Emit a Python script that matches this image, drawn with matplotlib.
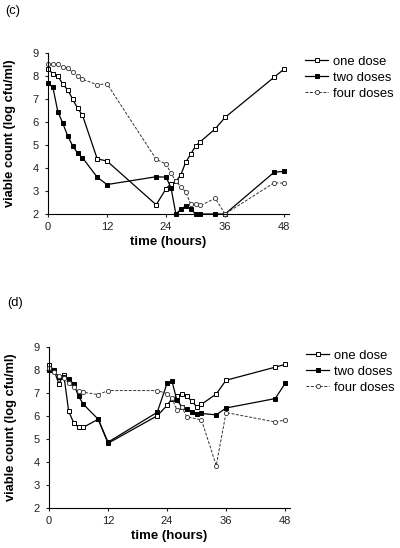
import matplotlib
matplotlib.use("Agg")
from matplotlib import pyplot as plt

plt.rcParams['font.family'] = ['Liberation Sans', 'DejaVu Sans']

# (c) panel data
c_one_t = [0, 1, 2, 3, 4, 5, 6, 7, 10, 12, 22, 24, 25, 26, 27, 28, 29, 30, 31, 34, 36, 46, 48]
c_one_v = [8.3, 8.1, 8.0, 7.65, 7.4, 7.0, 6.6, 6.3, 4.4, 4.3, 2.4, 3.1, 3.32, 3.42, 3.7, 4.25, 4.6, 4.95, 5.15, 5.7, 6.2, 7.95, 8.3]
c_two_t = [0, 1, 2, 3, 4, 5, 6, 7, 10, 12, 22, 24, 25, 26, 27, 28, 29, 30, 31, 34, 36, 46, 48]
c_two_v = [7.7, 7.5, 6.45, 5.95, 5.4, 4.97, 4.65, 4.45, 3.6, 3.28, 3.62, 3.6, 3.15, 2.0, 2.2, 2.35, 2.22, 2.0, 2.0, 2.0, 2.0, 3.82, 3.85]
c_four_t = [0, 1, 2, 3, 4, 5, 6, 7, 10, 12, 22, 24, 25, 26, 27, 28, 29, 30, 31, 34, 36, 46, 48]
c_four_v = [8.52, 8.5, 8.5, 8.37, 8.35, 8.16, 8.0, 7.86, 7.62, 7.66, 4.38, 4.17, 3.78, 3.42, 3.19, 2.96, 2.43, 2.42, 2.37, 2.68, 2.0, 3.36, 3.34]

# (d) panel data
d_one_t = [0, 1, 2, 3, 4, 5, 6, 7, 10, 12, 22, 24, 25, 26, 27, 28, 29, 30, 31, 34, 36, 46, 48]
d_one_v = [8.2, 8.0, 7.4, 7.8, 6.2, 5.7, 5.5, 5.5, 5.85, 4.8, 6.0, 6.45, 6.75, 6.85, 6.95, 6.85, 6.65, 6.4, 6.5, 6.95, 7.55, 8.12, 8.24]
d_two_t = [0, 1, 2, 3, 4, 5, 6, 7, 10, 12, 22, 24, 25, 26, 27, 28, 29, 30, 31, 34, 36, 46, 48]
d_two_v = [8.0, 7.95, 7.7, 7.7, 7.6, 7.4, 6.85, 6.5, 5.85, 4.85, 6.15, 7.41, 7.52, 6.68, 6.4, 6.29, 6.18, 6.09, 6.1, 6.04, 6.34, 6.75, 7.41]
d_four_t = [0, 1, 2, 3, 4, 5, 6, 7, 10, 12, 22, 24, 25, 26, 27, 28, 31, 34, 36, 46, 48]
d_four_v = [8.1, 7.9, 7.75, 7.65, 7.42, 7.25, 7.07, 7.03, 6.92, 7.1, 7.1, 6.97, 6.77, 6.26, 6.37, 5.96, 5.82, 3.83, 6.14, 5.73, 5.82]

series_labels = ['one dose', 'two doses', 'four doses']
x_ticks = [0, 12, 24, 36, 48]
y_ticks = [2, 3, 4, 5, 6, 7, 8, 9]

fig = plt.figure(figsize=(4, 5.48), dpi=100)
ax_c = fig.add_axes([0.12, 0.6095, 0.6025, 0.2938])
ax_d = fig.add_axes([0.1225, 0.0739, 0.6025, 0.2929])


def draw_panel(ax, one_t, one_v, two_t, two_v, four_t, four_v):
    ax.plot(one_t, one_v, color='black', lw=0.9, marker='s', ms=3.2,
            mfc='white', mec='black', mew=0.7, label=series_labels[0], clip_on=False)
    ax.plot(two_t, two_v, color='black', lw=0.9, marker='s', ms=3.2,
            mfc='black', mec='black', mew=0.7, label=series_labels[1], clip_on=False)
    ax.plot(four_t, four_v, color='#333333', lw=0.7, ls=(0, (3, 1.6)), marker='o', ms=3.0,
            mfc='white', mec='#333333', mew=0.6, label=series_labels[2], clip_on=False)
    ax.set_xlim(0, 49)
    ax.set_ylim(2, 9)
    ax.set_xticks(x_ticks)
    ax.set_yticks(y_ticks)
    ax.spines['top'].set_visible(False)
    ax.spines['right'].set_visible(False)
    ax.spines['left'].set_linewidth(0.8)
    ax.spines['bottom'].set_linewidth(0.8)
    ax.tick_params(direction='out', length=2.2, width=0.8, labelsize=8, colors='#222222')
    ax.tick_params(axis='x', pad=3.8)
    ax.tick_params(axis='y', pad=4.5)
    ax.set_xlabel('time (hours)', fontsize=9.5, fontweight='bold', labelpad=3)
    ax.set_ylabel('viable count (log cfu/ml)', fontsize=9.3, fontweight='bold', labelpad=12)
    ax.legend(loc='upper left', bbox_to_anchor=(1.045, 1.016), frameon=False, fontsize=9.4,
              handlelength=1.77, handletextpad=0.38, labelspacing=0.3, borderaxespad=0)


draw_panel(ax_c, c_one_t, c_one_v, c_two_t, c_two_v, c_four_t, c_four_v)
draw_panel(ax_d, d_one_t, d_one_v, d_two_t, d_two_v, d_four_t, d_four_v)

fig.text(0.0125, 0.98, '(c)', fontsize=9.3, va='center', ha='left')
fig.text(0.017, 0.447, '(d)', fontsize=9.3, va='center', ha='left')

plt.savefig('out.png', dpi=100)
